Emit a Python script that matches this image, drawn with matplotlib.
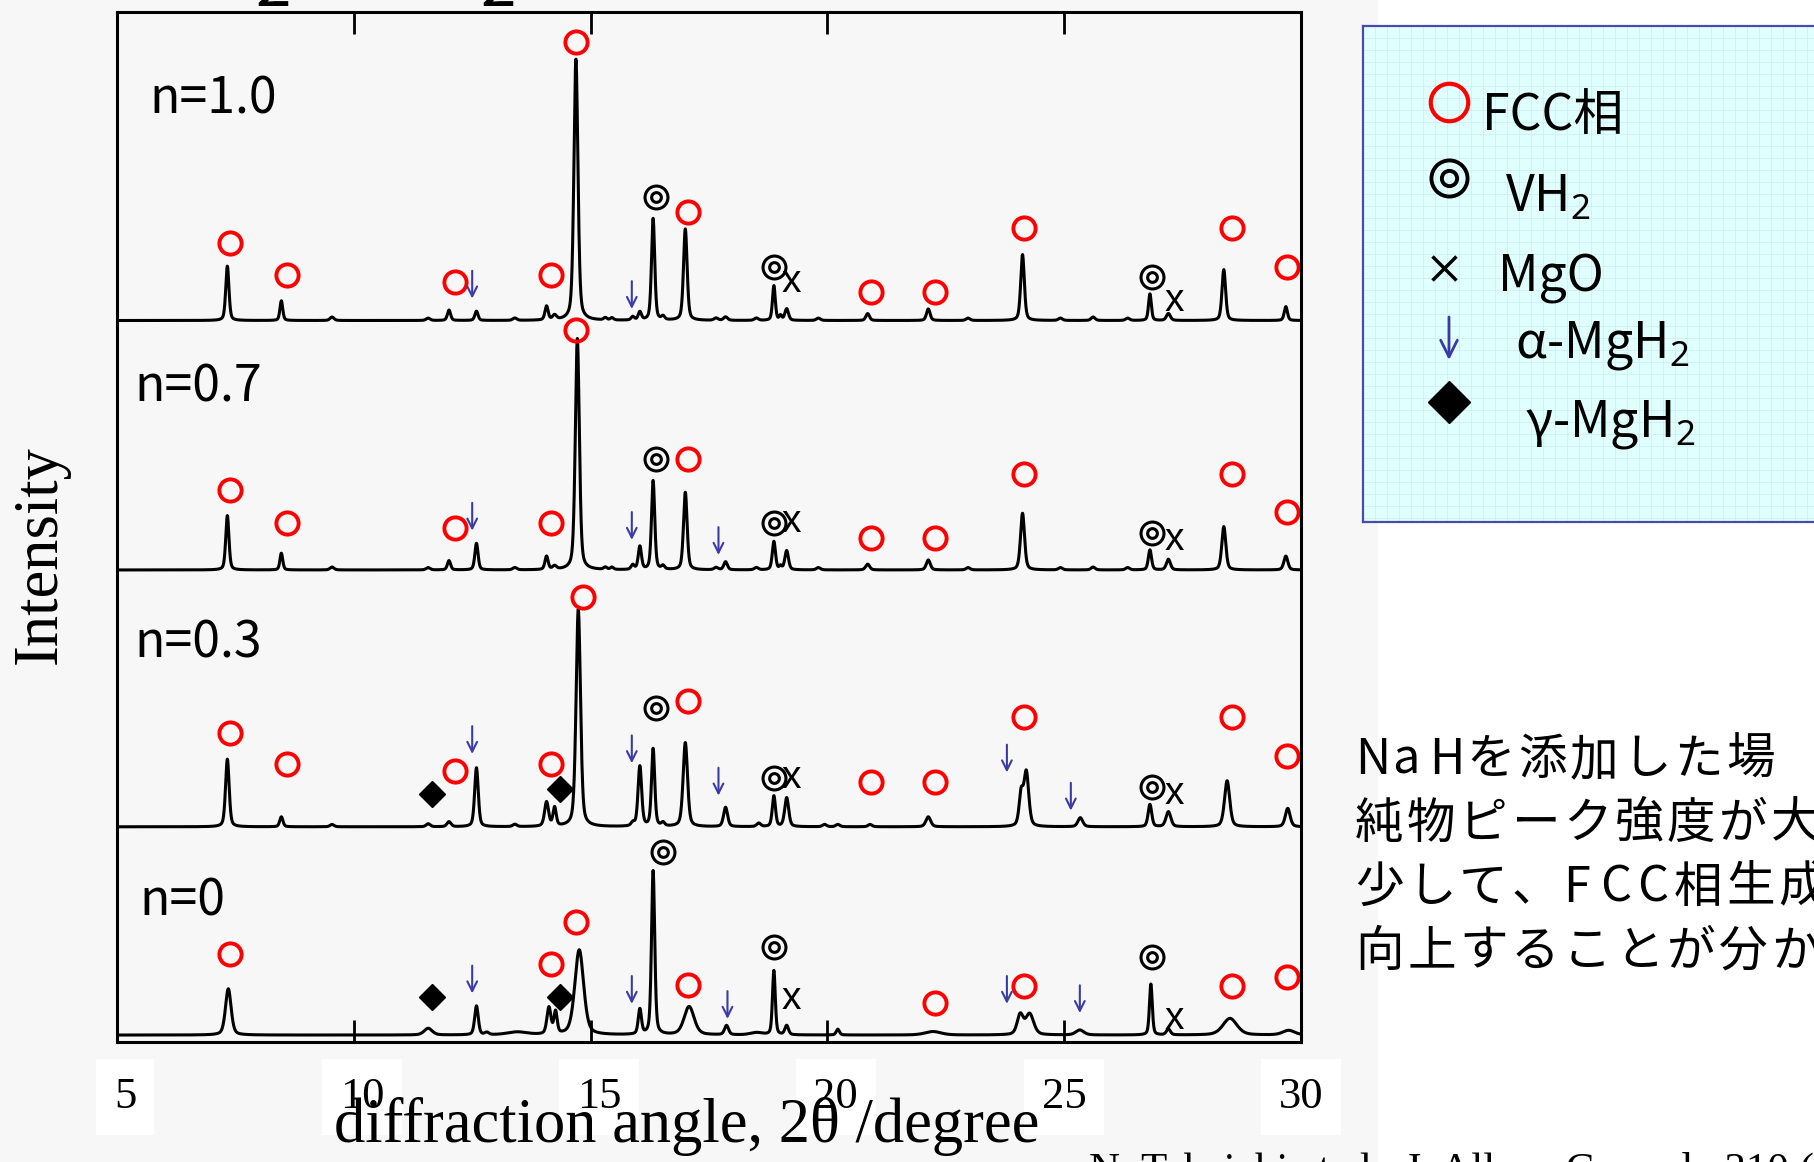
import numpy as np
import matplotlib.pyplot as plt
from matplotlib.patches import Rectangle
from matplotlib.transforms import ScaledTranslation

plt.rcParams['mathtext.fontset'] = 'custom'
plt.rcParams['mathtext.rm'] = 'Noto Sans'
plt.rcParams['mathtext.it'] = 'Noto Sans:italic'

# --- data -------------------------------------------------------------
tick_values = [5, 10, 15, 20, 25, 30]
samples = ["n=1.0", "n=0.7", "n=0.3", "n=0"]
offsets = [623.6, 408, 186, 6]

# peaks: (2theta, height, FWHM)
peaks_10 = [
    (7.33, 47, 0.08), (8.47, 17, 0.07), (9.54, 3, 0.10), (11.57, 2, 0.10),
    (12.01, 9, 0.08), (12.59, 8, 0.08), (13.40, 2, 0.10), (14.07, 12, 0.08),
    (14.24, 4, 0.10), (14.69, 226, 0.10), (15.31, 2, 0.08), (15.45, 2, 0.08),
    (15.89, 3, 0.08), (16.04, 7, 0.08), (16.32, 88, 0.08), (16.53, 3, 0.08),
    (17.00, 79, 0.09), (17.65, 2, 0.10), (17.85, 3, 0.10), (18.50, 2, 0.10),
    (18.87, 30, 0.07), (19.01, 4, 0.06), (19.14, 10, 0.09), (19.81, 2, 0.10),
    (20.85, 6, 0.09), (22.13, 10, 0.09), (22.97, 2, 0.10), (24.12, 57, 0.09),
    (24.92, 2, 0.10), (25.61, 3, 0.10), (26.34, 2, 0.10), (26.81, 23, 0.07),
    (27.20, 6, 0.10), (28.37, 44, 0.09), (29.68, 12, 0.08),
]
peaks_07 = [
    (7.33, 47, 0.08), (8.47, 14.5, 0.07), (9.54, 2.5, 0.10), (11.57, 2, 0.10),
    (12.01, 8, 0.08), (12.59, 23, 0.08), (13.40, 2, 0.10), (14.07, 11.5, 0.08),
    (14.24, 3, 0.10), (14.72, 200, 0.10), (15.31, 2, 0.08), (15.45, 2, 0.08),
    (15.89, 4, 0.08), (16.04, 20, 0.08), (16.32, 77, 0.08), (16.53, 3, 0.08),
    (17.00, 67, 0.09), (17.65, 2, 0.10), (17.85, 7, 0.09), (18.50, 2, 0.10),
    (18.87, 24.5, 0.08), (19.01, 3, 0.06), (19.14, 16.5, 0.09), (19.81, 2, 0.10),
    (20.85, 5, 0.10), (22.13, 8.6, 0.10), (22.97, 2, 0.10), (24.12, 49, 0.10),
    (24.92, 2, 0.10), (25.61, 2.5, 0.10), (26.34, 2, 0.10), (26.81, 17.3, 0.08),
    (27.20, 9.2, 0.10), (28.37, 37.5, 0.10), (29.68, 12, 0.10),
]
peaks_03 = [
    (7.33, 58.5, 0.09), (8.47, 8.6, 0.08), (9.54, 2, 0.10), (11.57, 2.6, 0.10),
    (12.01, 4.3, 0.10), (12.59, 51, 0.09), (13.40, 2, 0.10), (14.07, 21, 0.10),
    (14.24, 16, 0.08), (14.74, 188, 0.11), (15.89, 3, 0.08), (16.04, 52, 0.09),
    (16.32, 67, 0.08), (16.53, 3, 0.08), (17.00, 72.6, 0.11), (17.85, 16.7, 0.10),
    (18.55, 3, 0.10), (18.87, 26.5, 0.08), (19.14, 25, 0.10), (19.94, 2, 0.10),
    (20.22, 2, 0.10), (20.90, 2, 0.10), (22.13, 8.6, 0.12), (24.09, 27, 0.10),
    (24.20, 46.7, 0.12), (25.34, 7.8, 0.12), (26.81, 19.3, 0.09), (27.20, 13, 0.12),
    (28.44, 39.8, 0.13), (29.72, 15.9, 0.12),
]
peaks_00 = [
    (7.35, 40, 0.14), (11.57, 5.8, 0.20), (12.59, 25, 0.09), (12.81, 2, 0.10),
    (13.45, 2.5, 0.50), (14.12, 23, 0.10), (14.26, 19, 0.08), (14.76, 73.5, 0.22),
    (16.04, 21.6, 0.08), (16.32, 141.7, 0.08), (17.08, 24.5, 0.25), (17.87, 8, 0.10),
    (18.50, 2, 0.30), (18.87, 55.6, 0.07), (19.14, 8, 0.09), (20.22, 5, 0.08),
    (22.23, 3, 0.40), (24.07, 17, 0.15), (24.27, 18, 0.20), (25.33, 4.3, 0.20),
    (26.83, 44, 0.07), (27.20, 5, 0.10), (28.50, 14.4, 0.35), (29.74, 4, 0.30),
]

# phase marks: (2theta, phase, height above the pattern's baseline)
marks_10 = [
    (7.39, 'fcc', 67), (8.60, 'fcc', 39), (12.13, 'fcc', 33), (12.50, 'alpha', 31),
    (14.16, 'fcc', 39), (14.69, 'fcc', 241), (15.87, 'alpha', 22), (16.38, 'vh2', 107),
    (17.06, 'fcc', 94), (18.87, 'vh2', 46), (19.23, 'mgo', 33), (20.92, 'fcc', 25),
    (22.27, 'fcc', 25), (24.15, 'fcc', 80), (26.85, 'vh2', 38), (27.32, 'mgo', 17),
    (28.54, 'fcc', 80), (29.71, 'fcc', 46),
]
marks_07 = [
    (7.39, 'fcc', 69), (8.60, 'fcc', 41), (12.13, 'fcc', 36), (12.50, 'alpha', 46),
    (14.16, 'fcc', 41), (14.69, 'fcc', 207), (15.87, 'alpha', 38), (16.38, 'vh2', 96),
    (17.06, 'fcc', 96), (17.70, 'alpha', 25), (18.87, 'vh2', 41), (19.23, 'mgo', 41),
    (20.92, 'fcc', 28), (22.27, 'fcc', 28), (24.15, 'fcc', 83), (26.85, 'vh2', 32),
    (27.32, 'mgo', 26), (28.54, 'fcc', 83), (29.71, 'fcc', 50),
]
marks_03 = [
    (7.39, 'fcc', 81), (8.60, 'fcc', 54), (11.65, 'gamma', 28), (12.13, 'fcc', 48),
    (12.50, 'alpha', 75), (14.16, 'fcc', 54), (14.35, 'gamma', 33), (14.84, 'fcc', 199),
    (15.87, 'alpha', 67), (16.38, 'vh2', 103), (17.06, 'fcc', 109), (17.70, 'alpha', 39),
    (18.87, 'vh2', 42), (19.23, 'mgo', 42), (20.92, 'fcc', 39), (22.27, 'fcc', 39),
    (23.79, 'alpha', 59), (24.15, 'fcc', 95), (25.14, 'alpha', 26), (26.85, 'vh2', 34),
    (27.32, 'mgo', 28), (28.54, 'fcc', 95), (29.71, 'fcc', 61),
]
marks_00 = [
    (7.39, 'fcc', 70), (11.65, 'gamma', 33), (12.50, 'alpha', 48), (14.16, 'fcc', 61.5),
    (14.35, 'gamma', 33), (14.69, 'fcc', 98), (15.87, 'alpha', 39), (16.53, 'vh2', 158),
    (17.06, 'fcc', 43), (17.89, 'alpha', 26), (18.87, 'vh2', 76), (19.23, 'mgo', 31),
    (22.27, 'fcc', 28), (23.79, 'alpha', 39), (24.15, 'fcc', 42), (25.33, 'alpha', 31),
    (26.85, 'vh2', 67.6), (27.32, 'mgo', 14), (28.54, 'fcc', 42), (29.71, 'fcc', 50.6),
]

all_peaks = [peaks_10, peaks_07, peaks_03, peaks_00]
all_marks = [marks_10, marks_07, marks_03, marks_00]
label_px = [(149, 113), (134, 402), (134, 658), (139, 915)]

legend_labels = ["FCC相", "VH$_2$", "MgO", "α-MgH$_2$", "γ-MgH$_2$"]
note_lines = ["NaHを添加した場", "純物ピーク強度が大きく減",
              "少して、FCC相生成率が", "向上することが分かった。"]

ARROW = '#3b3ba5'
GRAY = '#f7f7f7'
W, H = 1814, 1162


def fx(x):
    return x / W


def fy(y):
    return 1 - y / H


tt = np.linspace(5, 30, 6001)


def pattern(peaks):
    y = np.zeros_like(tt)
    for pos, h, w in peaks:
        d = (tt - pos) / (w / 2)
        y += h * (0.4 / (1 + d ** 2) + 0.6 * np.exp(-np.log(2) * d ** 2))
    return y


fig = plt.figure(figsize=(W / 100, H / 100), dpi=100, facecolor='white')
fig.add_artist(Rectangle((0, 0), fx(1378), 1, transform=fig.transFigure,
                         fc=GRAY, ec='none', zorder=-10))

ax = fig.add_axes([fx(117), fy(1042), (1301 - 117) / W, (1042 - 12.3) / H])
ax.set_facecolor(GRAY)
ax.set_xlim(5, 30)
ax.set_ylim(0, 890)
for s in ax.spines.values():
    s.set_linewidth(2.2)

ax.set_xticks(tick_values)
ax.set_xticklabels([str(t) for t in tick_values], fontfamily='Liberation Serif', fontsize=32)
ax.set_yticks([])
ax.tick_params(axis='x', direction='in', length=16, width=2, top=True, pad=25)
for t, lbl in zip(tick_values, ax.get_xticklabels()):
    lbl.set_bbox(dict(boxstyle='square,pad=0.4', fc='white', ec='none'))
    if t <= 20:
        lbl.set_transform(lbl.get_transform() + ScaledTranslation(6 / 72, 0, fig.dpi_scale_trans))

ax.set_xlabel('diffraction angle, 2θ /degree', fontfamily='Liberation Serif', fontsize=45)
ax.xaxis.set_label_coords((687 - 117) / 1184, (1042 - 1142) / 1029.7)
ax.xaxis.label.set_va('baseline')
ax.set_ylabel('Intensity', fontfamily='Liberation Serif', fontsize=45)
ax.yaxis.set_label_coords((40.5 - 117) / 1184, (1042 - 555) / 1029.7)
ax.yaxis.label.set_va('center')


def draw_mark(a, x, y, kind):
    if kind == 'fcc':
        a.plot(x, y, 'o', ms=16, mfc='none', mec='#ff0000', mew=2.8, clip_on=False)
    elif kind == 'vh2':
        a.plot(x, y, 'o', ms=16.5, mfc='none', mec='k', mew=2.2, clip_on=False)
        a.plot(x, y, 'o', ms=7, mfc='none', mec='k', mew=2.2, clip_on=False)
    elif kind == 'mgo':
        a.text(x, y - 8.5, 'x', fontsize=28, family='Liberation Sans',
               ha='center', va='baseline')
    elif kind == 'alpha':
        a.annotate('', xy=(x, y - 12), xytext=(x, y + 12),
                   arrowprops=dict(arrowstyle='->,head_length=0.5,head_width=0.25',
                                   color=ARROW, lw=1.5, shrinkA=0, shrinkB=0,
                                   mutation_scale=14))
    elif kind == 'gamma':
        a.plot(x, y, 'D', ms=13, color='k', clip_on=False)


for name, base, peaks, marks, (lx, ly) in zip(samples, offsets, all_peaks, all_marks, label_px):
    ax.plot(tt, base + pattern(peaks), color='k', lw=2.2)
    for pos, kind, level in marks:
        draw_mark(ax, pos, base + level, kind)
    fig.text(fx(lx), fy(ly), name, fontsize=36, family='Noto Sans CJK JP', va='baseline')

# legend panel
lax = fig.add_axes([fx(1363), fy(522), (1830 - 1363) / W, (522 - 26) / H])
lax.set_xlim(0, 467)
lax.set_ylim(496, 0)
lax.set_facecolor('#e0ffff')
for s in lax.spines.values():
    s.set_color('#4a4aa8')
    s.set_linewidth(1.6)
lax.set_xticks(np.arange(0, 467, 12))
lax.set_yticks(np.arange(0, 496, 12))
lax.tick_params(length=0, labelbottom=False, labelleft=False)
lax.grid(True, color='#cdf0f0', lw=0.6)

lax.plot(86, 76, 'o', ms=27, mfc='none', mec='#ff0000', mew=3)
lax.plot(86, 152, 'o', ms=26, mfc='none', mec='k', mew=2.8)
lax.plot(86, 152, 'o', ms=11, mfc='none', mec='k', mew=2.8)
lax.plot(81, 242, 'x', ms=17, mec='k', mew=2.5)
lax.annotate('', xy=(86, 334), xytext=(86, 291),
             arrowprops=dict(arrowstyle='->,head_length=0.6,head_width=0.3',
                             color=ARROW, lw=2, shrinkA=0, shrinkB=0, mutation_scale=20))
lax.plot(86, 376, 'D', ms=21, color='k')

legend_xy = [(119, 104), (142, 186), (135, 265), (152, 332), (162, 411)]
for text, (tx, ty) in zip(legend_labels, legend_xy):
    lax.text(tx, ty, text, fontsize=36, family='Noto Sans CJK JP', va='baseline')

# note on the right, set character by character with wide tracking
for i, line in enumerate(note_lines):
    x = 1355
    for ch in line:
        fig.text(fx(x), fy(760 + 64 * i), ch, fontsize=35,
                 family='Noto Sans CJK JP', va='center')
        x += 37 if ch.isascii() else 52

# title remnants and reference line, both cut by the page edges
fig.text(fx(273), fy(6), '2', fontsize=46, family='Noto Sans CJK JP', ha='center', va='baseline')
fig.text(fx(498), fy(6), '2', fontsize=46, family='Noto Sans CJK JP', ha='center', va='baseline')
fig.text(fx(1089), fy(1152), 'N. Takeichi et al., J. Alloys Compd., 310 (2000)',
         fontsize=31, family='Liberation Serif', va='top')

fig.savefig('out.png', dpi=100, facecolor=fig.get_facecolor())
